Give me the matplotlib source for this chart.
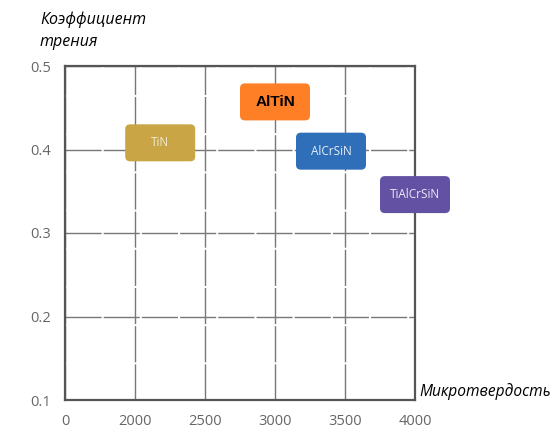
import matplotlib
matplotlib.use("Agg")
from matplotlib import pyplot as plt
from matplotlib.patches import FancyBboxPatch

plt.rcParams['font.family'] = ['Open Sans', 'DejaVu Sans']

# данные
coatings = ["TiN", "AlTiN", "AlCrSiN", "TiAlCrSiN"]
hardness = [2180, 3000, 3400, 4000]
friction = [0.408, 0.457, 0.398, 0.346]
box_colors = ["#C9A545", "#FF7F27", "#2F6FB9", "#6352A3"]
text_colors = ["#F2EBD3", "black", "#E8EEF7", "#ECE9F4"]
x_ticks = [1500, 2000, 2500, 3000, 3500, 4000]
x_labels = ["0", "2000", "2500", "3000", "3500", "4000"]
y_ticks = [0.1, 0.2, 0.3, 0.4, 0.5]

fig = plt.figure(figsize=(5.55, 4.34), dpi=100)
ax = fig.add_axes([65 / 555, 34 / 434, 350 / 555, 334 / 434])
ax.set_xlim(1500, 4000)
ax.set_ylim(0.1, 0.5)
ax.set_xticks(x_ticks)
ax.set_xticklabels(x_labels)
ax.set_yticks(y_ticks)
ax.set_yticklabels([f"{v:.1f}" for v in y_ticks])
ax.tick_params(length=0, labelsize=10.5, colors="#666666", pad=10)
ax.grid(True, color="#777777", linewidth=1.0, linestyle=(0, (26, 1.5)))
for s in ax.spines.values():
    s.set_color("#555555")
    s.set_linewidth(1.6)
ax.set_axisbelow(True)

# размеры плашек в единицах данных
bw = 70 / 350 * 2500
bh = 37 / 334 * 0.4
aspect = (0.4 / 334) / (2500 / 350)
for i in range(len(coatings)):
    box = FancyBboxPatch((hardness[i] - bw / 2, friction[i] - bh / 2), bw, bh,
                         boxstyle="round,pad=0,rounding_size=35",
                         mutation_aspect=aspect, facecolor=box_colors[i],
                         edgecolor="none", zorder=3, clip_on=False)
    ax.add_patch(box)
    bold = coatings[i] == "AlTiN"
    ax.text(hardness[i], friction[i], coatings[i], ha="center", va="center",
            color=text_colors[i], fontsize=11 if bold else 8.5,
            fontweight="bold" if bold else "normal", zorder=4,
            family=['Liberation Sans'] if bold else ['Open Sans'])

fig.text(40 / 555, 1 - 20 / 434, "Коэффициент", fontsize=11.5, style="italic",
         va="center", ha="left")
fig.text(40 / 555, 1 - 42 / 434, "трения", fontsize=11.5, style="italic",
         va="center", ha="left")
fig.text(419 / 555, 1 - 392 / 434, "Микротвердость", fontsize=11.2, style="italic",
         va="center", ha="left")

plt.savefig("out.png", dpi=100)
